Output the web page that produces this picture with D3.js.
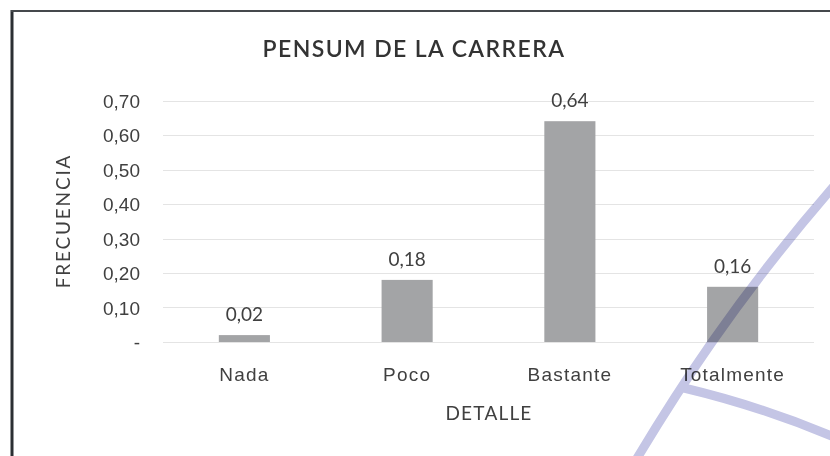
<!DOCTYPE html>
<html>
<head>
<meta charset="utf-8">
<script src="https://cdn.jsdelivr.net/npm/d3@7"></script>
<style>
  body { margin: 0; background: #fff; }
  svg { display: block; font-family: Lato, "Open Sans", sans-serif; }
</style>
</head>
<body>
<div id="chart"></div>
<script>
// data
const categories = ["Nada", "Poco", "Bastante", "Totalmente"];
const values = [0.02, 0.18, 0.64, 0.16];
const yTicks = [0, 0.1, 0.2, 0.3, 0.4, 0.5, 0.6, 0.7];

const chartTitle = "PENSUM DE LA CARRERA";
const xTitle = "DETALLE";
const yTitle = "FRECUENCIA";

const width = 830;
const height = 456;

const PLOT_LEFT = 163;
const PLOT_RIGHT = 814;
const Y_ZERO = 342;
const Y_TOP = 100.5;

const BAR_COLOR = "#a3a4a6";
const TEXT_COLOR = "#404040";
const GRID_COLOR = "#e4e4e4";
const LABEL_SIZE = "19px";

const fmt = (v) => v === 0 ? "-" : d3.format(".2f")(v).replace(".", ",");

const svg = d3
  .select("#chart")
  .append("svg")
  .attr("width", width)
  .attr("height", height);

// scan frame (thick left edge, top edge)
svg.append("line")
  .attr("x1", 12).attr("x2", 12).attr("y1", 10).attr("y2", height)
  .attr("stroke", "#2b2f33").attr("stroke-width", 3);
svg.append("line")
  .attr("x1", 11).attr("x2", width).attr("y1", 11).attr("y2", 11)
  .attr("stroke", "#45484c").attr("stroke-width", 2);

const x = d3
  .scaleBand()
  .domain(categories)
  .range([PLOT_LEFT, PLOT_RIGHT])
  .paddingInner(0.686)
  .paddingOuter(0.343);

const y = d3
  .scaleLinear()
  .domain([0, 0.7])
  .range([Y_ZERO, Y_TOP]);

// gridlines
svg.append("g")
  .selectAll("line.grid")
  .data(yTicks)
  .enter()
  .append("line")
  .attr("class", "grid")
  .attr("x1", PLOT_LEFT)
  .attr("x2", PLOT_RIGHT)
  .attr("y1", (d) => Math.round(y(d)) + 0.5)
  .attr("y2", (d) => Math.round(y(d)) + 0.5)
  .attr("stroke", GRID_COLOR)
  .attr("stroke-width", 1);

// y axis labels
const yAxis = d3.axisLeft(y)
  .tickValues(yTicks)
  .tickFormat(fmt)
  .tickSize(0)
  .tickPadding(0);

svg.append("g")
  .attr("transform", `translate(140,0)`)
  .call(yAxis)
  .call((g) => g.select(".domain").remove())
  .selectAll("text")
  .attr("fill", TEXT_COLOR)
  .style("font-size", LABEL_SIZE)
  .attr("dy", "0.35em");

// bars
svg.append("g")
  .selectAll("rect.bar")
  .data(values)
  .enter()
  .append("rect")
  .attr("class", "bar")
  .attr("x", (d, i) => x(categories[i]))
  .attr("y", (d) => y(d))
  .attr("width", x.bandwidth())
  .attr("height", (d) => y(0) - y(d))
  .attr("fill", BAR_COLOR);

// value labels
svg.append("g")
  .selectAll("text.val")
  .data(values)
  .enter()
  .append("text")
  .attr("class", "val")
  .attr("x", (d, i) => x(categories[i]) + x.bandwidth() / 2)
  .attr("y", (d) => y(d) - 14)
  .attr("text-anchor", "middle")
  .attr("fill", TEXT_COLOR)
  .style("font-size", LABEL_SIZE)
  .text(fmt);

// category labels
const xAxis = d3.axisBottom(x).tickSize(0).tickPadding(0);
svg.append("g")
  .attr("transform", `translate(0,${Y_ZERO + 32})`)
  .call(xAxis)
  .call((g) => g.select(".domain").remove())
  .selectAll("text")
  .attr("fill", TEXT_COLOR)
  .attr("dy", "0.35em")
  .style("font-size", LABEL_SIZE)
  .style("letter-spacing", "1.2px");

// titles
svg.append("text")
  .attr("x", 414)
  .attr("y", 57)
  .attr("text-anchor", "middle")
  .attr("fill", "#333")
  .style("font-size", "23px")
  .style("font-weight", 600)
  .style("letter-spacing", "1.4px")
  .text(chartTitle);

svg.append("text")
  .attr("x", 489)
  .attr("y", 420)
  .attr("text-anchor", "middle")
  .attr("fill", TEXT_COLOR)
  .style("font-size", LABEL_SIZE)
  .style("letter-spacing", "1.2px")
  .text(xTitle);

svg.append("text")
  .attr("transform", "translate(70,221) rotate(-90)")
  .attr("text-anchor", "middle")
  .attr("fill", TEXT_COLOR)
  .style("font-size", LABEL_SIZE)
  .style("letter-spacing", "1.8px")
  .text(yTitle);

// lavender watermark strokes from the scanned page
const mark = svg.append("g")
  .attr("fill", "none")
  .attr("stroke", "#c4c5e5")
  .attr("stroke-width", 9)
  .style("mix-blend-mode", "multiply");
mark.append("path").attr("d", "M636,460 C675,395 735,300 834,186");
mark.append("path").attr("d", "M684,388 Q760,406 834,437");
</script>
</body>
</html>
